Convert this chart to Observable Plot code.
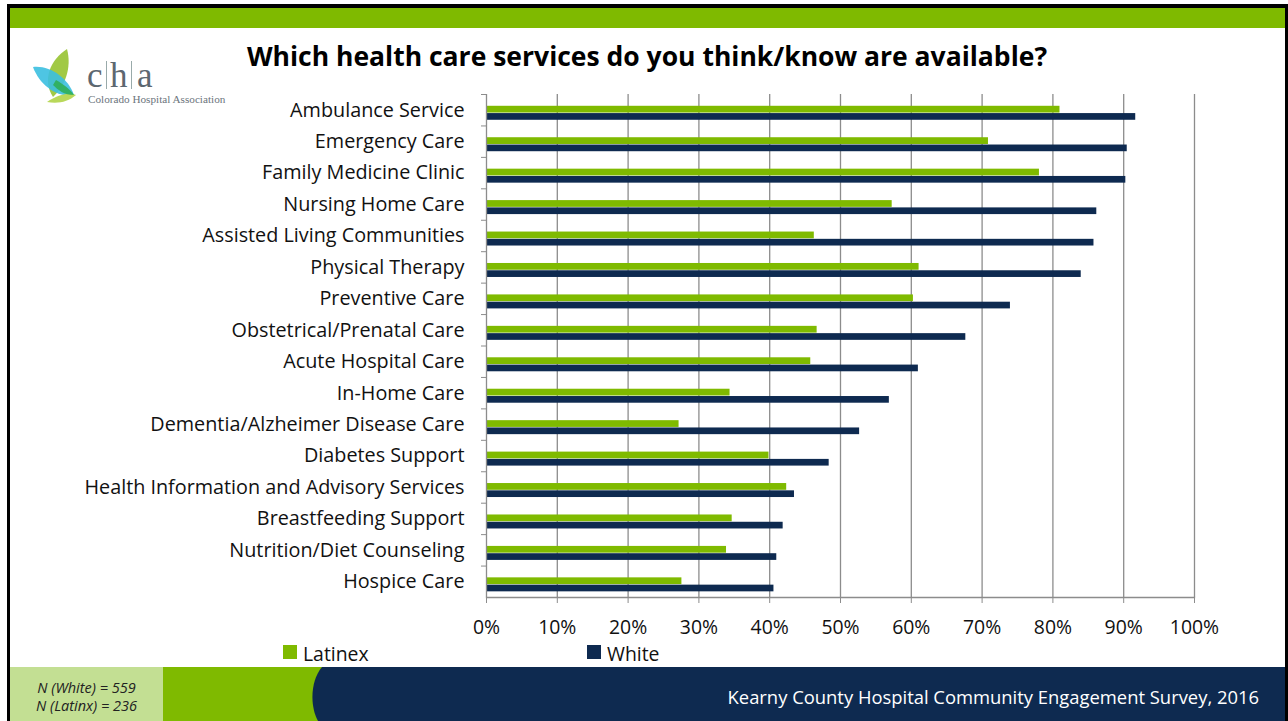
<!DOCTYPE html>
<html>
<head>
<meta charset="utf-8">
<script src="https://cdn.jsdelivr.net/npm/d3@7"></script>
<script src="https://cdn.jsdelivr.net/npm/@observablehq/plot@0.6"></script>
<style>
  html, body { margin: 0; padding: 0; background: #fff; }
  #slide { position: relative; width: 1288px; height: 721px; overflow: hidden; background: #fff; font-family: "Open Sans", Lato, sans-serif; }
  .abs { position: absolute; }
  #chart svg { display: block; }
</style>
</head>
<body>
<div id="slide">
  <!-- frame -->
  <div class="abs" style="left:7px;top:4px;width:1281px;height:717px;background:#000;"></div>
  <div class="abs" style="left:10px;top:8px;width:1275px;height:713px;background:#fff;"></div>
  <div class="abs" style="left:10px;top:8px;width:1275px;height:20px;background:#7fba00;"></div>
  <!-- logo -->
  <svg class="abs" style="left:20px;top:40px;" width="210" height="70" viewBox="0 0 210 70">
    <path d="M47,9 C30,20 22,40 33,57 C45,46 52,28 47,9 Z" fill="#9cc63b" opacity="0.95"/>
    <path d="M13,27 C30,25 48,38 54,55 C38,58 20,46 13,27 Z" fill="#3bbfe0" opacity="0.9"/>
    <path d="M27,62 C38,54 50,52 56,55 C48,62 38,64 27,62 Z" fill="#b9d85a"/>
    <path d="M36,40 C43,44 50,49 54,55 C44,55 38,50 33,45 Z" fill="#2fae58" opacity="0.9"/>
    <text x="67" y="47" font-family="'Liberation Serif', 'DejaVu Serif', serif" font-size="35" fill="#5d6770">c</text>
    <line x1="86.5" y1="21" x2="86.5" y2="49" stroke="#9aa" stroke-width="1"/>
    <text x="90" y="47" font-family="'Liberation Serif', 'DejaVu Serif', serif" font-size="35" fill="#5d6770">h</text>
    <line x1="111.5" y1="21" x2="111.5" y2="49" stroke="#9aa" stroke-width="1"/>
    <text x="117" y="47" font-family="'Liberation Serif', 'DejaVu Serif', serif" font-size="35" fill="#5d6770">a</text>
    <text x="68" y="63" font-family="'Liberation Serif', 'DejaVu Serif', serif" font-size="11.2" fill="#6b747c">Colorado Hospital Association</text>
  </svg>
  <!-- title -->
  <div class="abs" style="left:0;width:1294px;top:38px;text-align:center;font-weight:bold;font-size:26.5px;color:#000;font-family:'Open Sans',sans-serif;">Which health care services do you think/know are available?</div>
  <div id="chart" class="abs" style="left:0;top:90px;"></div>
  <!-- legend -->
  <div class="abs" style="left:283px;top:645px;width:14px;height:14px;background:#7fba00;"></div>
  <div class="abs" style="left:303px;top:645.5px;font-size:19.4px;line-height:16px;color:#111;">Latinex</div>
  <div class="abs" style="left:587px;top:645px;width:14px;height:14px;background:#0e2a50;"></div>
  <div class="abs" style="left:607px;top:645.5px;font-size:19.4px;line-height:16px;color:#111;">White</div>
  <!-- footer -->
  <svg class="abs" style="left:10px;top:667px;" width="1275" height="54" viewBox="0 0 1275 54">
    <rect x="0" y="0" width="153" height="54" fill="#c3df93"/>
    <rect x="153" y="0" width="170" height="54" fill="#7fba00"/>
    <path d="M312,0 C300,14 300,40 308,54 L1275,54 L1275,0 Z" fill="#0e2a50"/>
  </svg>
  <div class="abs" style="left:10px;width:153px;top:679px;text-align:center;font-style:italic;font-size:14.5px;line-height:18px;color:#222;">N (White) = 559<br>N (Latinx) = 236</div>
  <div class="abs" style="right:29px;top:684px;font-size:18.4px;color:#fff;">Kearny County Hospital Community Engagement Survey, 2016</div>
</div>
<script>
const services = [
  "Ambulance Service",
  "Emergency Care",
  "Family Medicine Clinic",
  "Nursing Home Care",
  "Assisted Living Communities",
  "Physical Therapy",
  "Preventive Care",
  "Obstetrical/Prenatal Care",
  "Acute Hospital Care",
  "In-Home Care",
  "Dementia/Alzheimer Disease Care",
  "Diabetes Support",
  "Health Information and Advisory Services",
  "Breastfeeding Support",
  "Nutrition/Diet Counseling",
  "Hospice Care"
];
const latinex = [0.810, 0.709, 0.781, 0.573, 0.463, 0.611, 0.603, 0.467, 0.458, 0.344, 0.272, 0.399, 0.424, 0.347, 0.339, 0.276];
const white   = [0.917, 0.905, 0.903, 0.862, 0.858, 0.840, 0.740, 0.677, 0.610, 0.569, 0.527, 0.484, 0.435, 0.419, 0.410, 0.406];
const xTicks = [0, 0.1, 0.2, 0.3, 0.4, 0.5, 0.6, 0.7, 0.8, 0.9, 1.0];

const rows = services.map((s, i) => ({service: s, latinex: latinex[i], white: white[i]}));

const GREEN = "#7fba00", NAVY = "#0e2a50", GRID = "#8c8c8c";
const H = 560, MT = 4, MB = 53;
const step = (H - MT - MB) / services.length;

const chart = Plot.plot({
  width: 1240,
  height: H,
  marginLeft: 486,
  marginRight: 46,
  marginTop: MT,
  marginBottom: MB,
  style: {fontFamily: "'Open Sans', Lato, sans-serif", fontSize: "19.8px", color: "#111", background: "transparent", overflow: "visible"},
  x: {domain: [0, 1]},
  y: {domain: services, padding: 0, round: false},
  marks: [
    Plot.gridX(xTicks.slice(1), {stroke: GRID, strokeOpacity: 1, strokeWidth: 1.3}),
    Plot.barX(rows, {x: "latinex", y: "service", fill: GREEN, insetTop: step * 0.375, insetBottom: step * 0.41}),
    Plot.barX(rows, {x: "white", y: "service", fill: NAVY, insetTop: step * 0.607, insetBottom: step * 0.18}),
    Plot.ruleX([0], {stroke: GRID, strokeWidth: 1.3}),
    Plot.frame({anchor: "bottom", stroke: GRID, strokeWidth: 1.3}),
    Plot.axisY({tickSize: 0, tickPadding: 22, label: null, fill: "#111"}),
    Plot.axisY({tickSize: 5, tickFormat: () => "", label: null, dy: -step / 2, stroke: GRID}),
    Plot.axisX(xTicks, {tickSize: 6, tickPadding: 17, fontSize: 19.4, tickFormat: d3.format(".0%"), label: null, stroke: GRID, fill: "#111"})
  ]
});
document.getElementById("chart").appendChild(chart);
</script>
</body>
</html>
